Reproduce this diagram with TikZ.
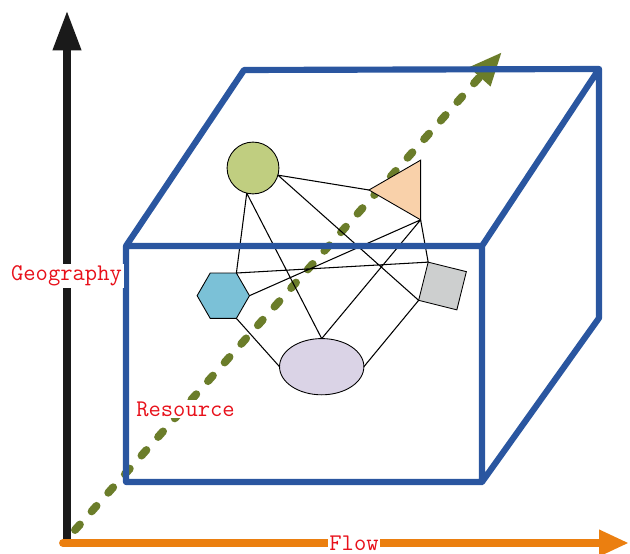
\documentclass[tikz,border=0pt]{standalone}
\usetikzlibrary{arrows.meta,shapes.geometric}
\definecolor{boxblue}{HTML}{2A56A0}
\definecolor{resgreen}{HTML}{6B7D2A}
\definecolor{floworange}{HTML}{EB7F10}
\definecolor{axisblack}{HTML}{1A1A1A}
\definecolor{cirfill}{HTML}{C0CE80}
\definecolor{trifill}{HTML}{F9D1AA}
\definecolor{hexfill}{HTML}{7BC1D7}
\definecolor{sqfill}{HTML}{CDCFCF}
\definecolor{ellfill}{HTML}{DAD3E6}
\definecolor{lblred}{HTML}{E8101A}

\begin{document}
\begin{tikzpicture}[x=.2mm,y=-.2mm,
  shp/.style={draw,line width=.5pt,inner sep=0pt,outer sep=0pt},
  link/.style={line width=.6pt},
  lbl/.style={fill=white,inner sep=1pt,text=lblred,font=\ttfamily\fontsize{13.6}{16}\selectfont}]
\useasboundingbox (0,0) rectangle (630,554);
% resource axis
\coordinate (resS) at (75,530); \coordinate (resE) at (502,52);
\draw[resgreen,line width=4.5pt,line cap=round,dash pattern=on 4.2pt off 10pt,-{Triangle[length=19pt,width=15pt]}] (resS)--(resE);
% graph
\node[shp,circle,fill=cirfill,minimum size=29.5pt] (cir) at (253,168) {};
\node[shp,regular polygon,regular polygon sides=3,shape border rotate=90,fill=trifill,minimum size=39.2pt] (tri) at (403.4,190) {};
\node[shp,regular polygon,regular polygon sides=6,fill=hexfill,minimum size=29.8pt] (hex) at (223.3,295.7) {};
\node[shp,rectangle,rotate=-14,fill=sqfill,minimum size=22.4pt] (sq) at (442.5,286) {};
\node[shp,ellipse,fill=ellfill,minimum width=48pt,minimum height=32pt] (ell) at (321.7,366.7) {};
\draw[link] (cir.-16)--(tri.180) (cir.-16)--(sq.south west) (cir.-104)--(hex.60) (cir.-104)--(ell.north)
  (tri.-60)--(hex.0) (tri.-60)--(ell.north) (tri.-60)--(sq.north west) (hex.60)--(sq.north west)
  (hex.-60)--(ell.west) (ell.east)--(sq.south west);
% box
\coordinate (fa) at (126,246); \coordinate (fb) at (482,246); \coordinate (fc) at (482,482); \coordinate (fd) at (126,482);
\coordinate (ba) at (244,70); \coordinate (bb) at (599,69); \coordinate (bc) at (599,318);
\draw[boxblue,line width=3.5pt,line join=round,line cap=round] (fa)--(fb)--(fc)--(fd)--cycle (fa)--(ba)--(bb)--(fb) (bb)--(bc)--(fc);
% geography and flow axes
\coordinate (geoS) at (67,541); \coordinate (geoE) at (67,10);
\coordinate (flowS) at (63,543); \coordinate (flowE) at (629,543);
\draw[axisblack,line width=5pt,-{Triangle[length=23pt,width=15pt]}] (geoS)--(geoE);
\draw[floworange,line width=4.5pt,line cap=round,-{Triangle[length=17pt,width=14pt]}] (flowS)--(flowE);
\node[lbl] (geo) at (66.5,276) {Geography};
\node[lbl] (res) at (185.5,409) {Resource};
\node[lbl] (flw) at (354,543) {Flow};
\end{tikzpicture}
\end{document}
